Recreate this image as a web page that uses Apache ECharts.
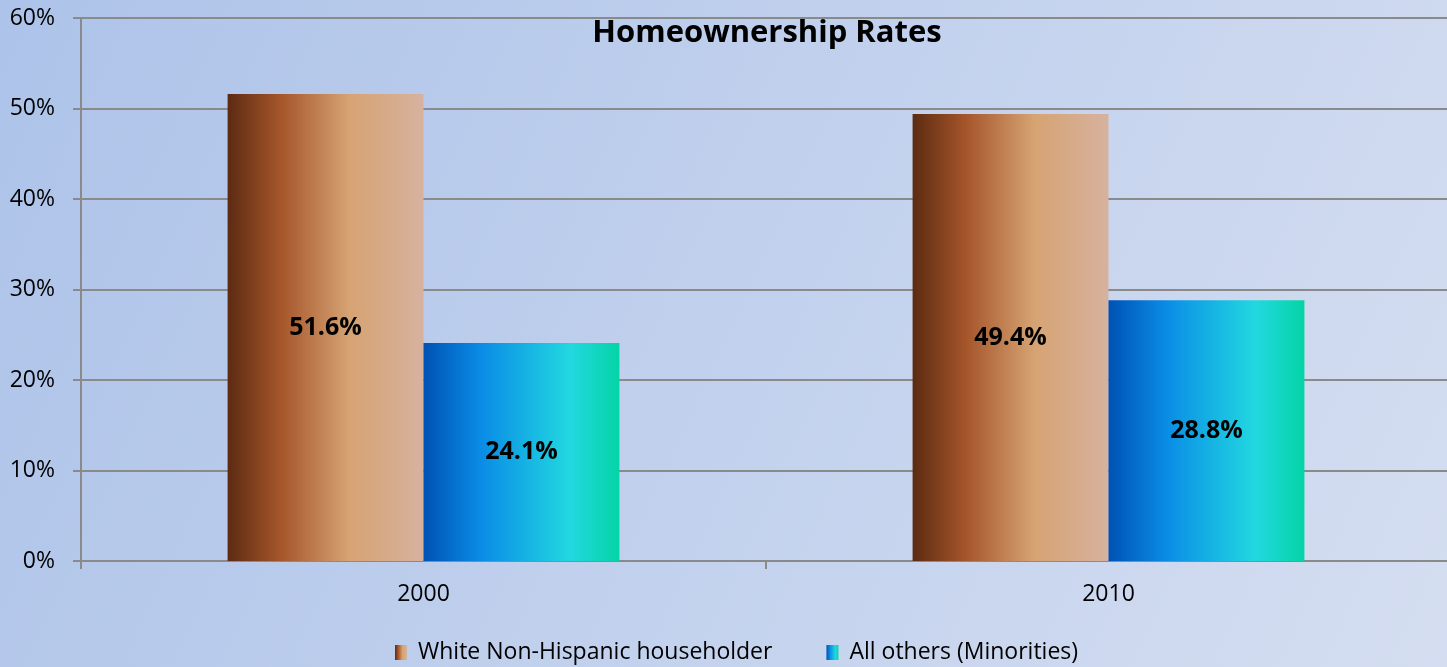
<!DOCTYPE html>
<html><head><meta charset="utf-8">
<script src="https://cdn.jsdelivr.net/npm/echarts@6/dist/echarts.min.js"></script>
<style>html,body{margin:0;padding:0;overflow:hidden;}#c{width:1451px;height:667px;}</style>
</head><body><div id="c"></div>
<script>
const categories = ['2000', '2010'];
const whiteValues = [51.6, 49.4];
const minorityValues = [24.1, 28.8];
const seriesNames = ['White Non-Hispanic householder', 'All others (Minorities)'];
const yTicks = [0, 10, 20, 30, 40, 50, 60];

const FONT = '"Open Sans", "Noto Sans", sans-serif';
const brown = new echarts.graphic.LinearGradient(0, 0, 1, 0, [
  {offset: 0, color: '#5c2b12'},
  {offset: 0.27, color: '#a5552a'},
  {offset: 0.62, color: '#d6a373'},
  {offset: 1, color: '#d6b29f'}
]);
const blue = new echarts.graphic.LinearGradient(0, 0, 1, 0, [
  {offset: 0, color: '#0052b4'},
  {offset: 0.3, color: '#0a8de6'},
  {offset: 0.75, color: '#22d8e0'},
  {offset: 1, color: '#04d4a6'}
]);
const chart = echarts.init(document.getElementById('c'));
const label = {show: true, position: 'inside', color: '#000', fontWeight: 'bold', fontSize: 25, fontFamily: FONT, formatter: p => p.value.toFixed(1) + '%'};
chart.setOption({
  animation: false,
  backgroundColor: new echarts.graphic.LinearGradient(0, 0, 1, 1, [
    {offset: 0, color: '#adc3e9'},
    {offset: 1, color: '#d5def1'}
  ]),
  title: {text: 'Homeownership Rates', left: 762, textAlign: 'center', top: 13,
    textStyle: {fontFamily: FONT, fontWeight: 'bold', fontSize: 31, color: '#000'}},
  legend: {top: 636, left: 390, itemGap: 54, itemWidth: 12, itemHeight: 15, icon: 'rect',
    textStyle: {fontFamily: FONT, fontSize: 23, color: '#000', padding: [0, 0, 0, 6]}, data: seriesNames},
  grid: {left: 81, right: 0, top: 18, bottom: 106, containLabel: false},
  xAxis: {type: 'category', data: categories,
    axisLine: {lineStyle: {color: '#8a8a8a', width: 2}},
    axisTick: {show: true, length: 8, lineStyle: {color: '#8a8a8a', width: 2}},
    axisLabel: {fontFamily: FONT, fontSize: 23, color: '#000', margin: 22}},
  yAxis: {type: 'value', min: yTicks[0], max: yTicks[yTicks.length - 1], interval: 10,
    axisLine: {show: true, lineStyle: {color: '#8a8a8a', width: 2}},
    axisTick: {show: true, length: 8, lineStyle: {color: '#8a8a8a', width: 2}},
    splitLine: {lineStyle: {color: '#8a8a8a', width: 2}},
    axisLabel: {fontFamily: FONT, fontSize: 23, color: '#000', margin: 26, formatter: '{value}%'}},
  series: [
    {name: seriesNames[0], type: 'bar', data: whiteValues, barWidth: '28.6%', barGap: '0%',
      itemStyle: {color: brown}, label: label},
    {name: seriesNames[1], type: 'bar', data: minorityValues, barWidth: '28.6%', barGap: '0%',
      itemStyle: {color: blue}, label: label}
  ]
});
</script></body></html>
